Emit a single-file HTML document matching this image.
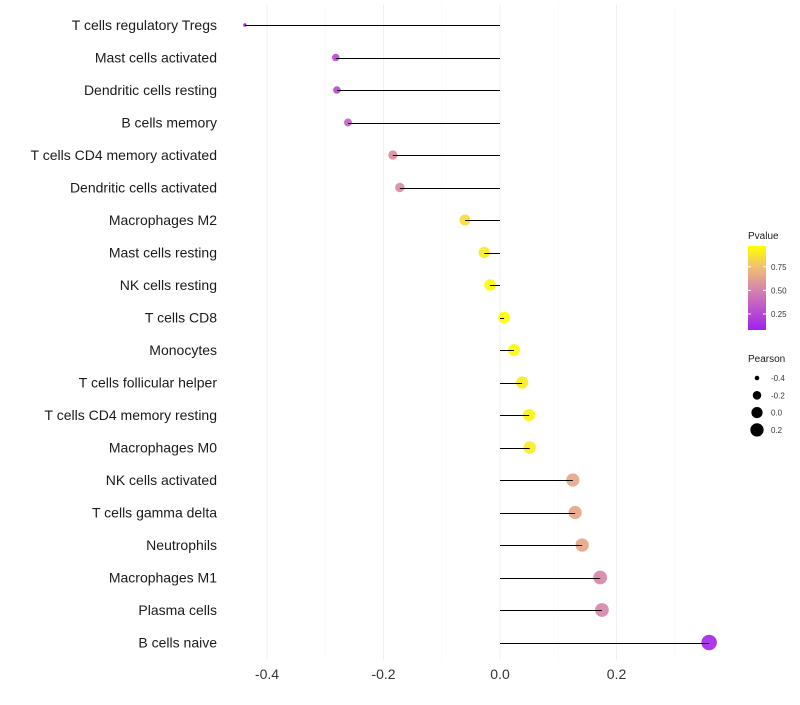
<!DOCTYPE html>
<html><head><meta charset="utf-8"><style>
body{margin:0;background:#fff;font-family:"Liberation Sans",sans-serif}
</style></head><body>
<svg id="c" width="800" height="700" font-family="Liberation Sans, sans-serif"></svg>
<script>
const categories=["T cells regulatory  Tregs ","Mast cells activated","Dendritic cells resting","B cells memory","T cells CD4 memory activated","Dendritic cells activated","Macrophages M2","Mast cells resting","NK cells resting","T cells CD8","Monocytes","T cells follicular helper","T cells CD4 memory resting","Macrophages M0","NK cells activated","T cells gamma delta","Neutrophils","Macrophages M1","Plasma cells","B cells naive"];
const pearson=[-0.438,-0.282,-0.280,-0.261,-0.184,-0.172,-0.060,-0.027,-0.017,0.007,0.024,0.038,0.050,0.051,0.125,0.129,0.141,0.172,0.175,0.359];
const pvalue=[0.08,0.27,0.27,0.35,0.55,0.55,0.85,0.90,0.95,0.97,0.95,0.90,0.93,0.90,0.65,0.65,0.65,0.52,0.52,0.12];
const xTicks=[-0.4,-0.2,0.0,0.2];
const xMinor=[-0.3,-0.1,0.1,0.3];
const colorTicks=[0.25,0.50,0.75];
const sizeTicks=[-0.4,-0.2,0.0,0.2];

const svg=document.getElementById('c');const NS='http://www.w3.org/2000/svg';
function mk(t,a,p){const e=document.createElementNS(NS,t);for(const k in a)e.setAttribute(k,a[k]);(p||svg).appendChild(e);return e;}
const X=v=>500+v*582.5;
const Y=i=>25+i*32.5;
const R=v=>Math.sqrt(Math.max(2,3+72*(v+0.438)));
const stops=[[0,[160,32,240]],[0.5,[216,136,168]],[0.75,[240,192,112]],[1,[255,255,0]]];
function col(p){let t=(p-0.08)/(0.97-0.08);t=Math.max(0,Math.min(1,t));
 for(let i=1;i<stops.length;i++){if(t<=stops[i][0]){const a=stops[i-1],b=stops[i];const f=(t-a[0])/(b[0]-a[0]);
 const c=a[1].map((v,j)=>Math.round(v+(b[1][j]-v)*f));return `rgb(${c})`;}}return 'rgb(255,255,0)';}

xMinor.forEach(v=>{const l=mk('line',{x1:X(v),x2:X(v),y1:5,y2:660,stroke:'#f5f5f5','stroke-width':0.6});
});
xTicks.forEach(v=>{const l=mk('line',{x1:X(v),x2:X(v),y1:5,y2:660,stroke:'#efefef','stroke-width':1});

const t=mk('text',{x:X(v),y:679,'text-anchor':'middle','font-size':14,fill:'#333'});t.textContent=v.toFixed(1);
});

categories.forEach((c,i)=>{
 const t=mk('text',{x:217,y:Y(i)+5,'text-anchor':'end','font-size':14,fill:'#1a1a1a','xml:space':'preserve'});t.textContent=c;
 
 const p=mk('circle',{cx:X(pearson[i]),cy:Y(i),r:R(pearson[i]),fill:col(pvalue[i]),'fill-opacity':0.92});
 
 const yl=Math.round(Y(i))+0.5;
 const l=mk('line',{x1:X(0),x2:X(pearson[i]),y1:yl,y2:yl,stroke:'#000','stroke-width':1});
 
});

const g=mk('g',{});
const lt=mk('text',{x:748,y:239,'font-size':10,fill:'#1a1a1a'},g);lt.textContent='Pvalue';
const defs=mk('defs',{});const lg=mk('linearGradient',{id:'gr',x1:0,y1:1,x2:0,y2:0},defs);
stops.forEach(s=>mk('stop',{offset:s[0],'stop-color':`rgb(${s[1]})`},lg));
mk('rect',{x:748,y:246,width:18,height:84,fill:'url(#gr)'},g);
const cy=p=>330-(p-0.08)/(0.89)*84;
colorTicks.forEach(p=>{mk('line',{x1:748,x2:751,y1:cy(p),y2:cy(p),stroke:'#fff'},g);mk('line',{x1:763,x2:766,y1:cy(p),y2:cy(p),stroke:'#fff'},g);
 const t=mk('text',{x:771,y:cy(p)+3,'font-size':8,fill:'#333'},g);t.textContent=p.toFixed(2);});
const g2=mk('g',{});
const st=mk('text',{x:748,y:362,'font-size':10,fill:'#1a1a1a'},g2);st.textContent='Pearson';
sizeTicks.forEach((v,i)=>{const yy=378+i*17.3;mk('circle',{cx:757,cy:yy,r:R(v)*0.95,fill:'#000'},g2);
 const t=mk('text',{x:771,y:yy+3,'font-size':8,fill:'#333'},g2);t.textContent=v.toFixed(1);});
</script>
</body></html>
